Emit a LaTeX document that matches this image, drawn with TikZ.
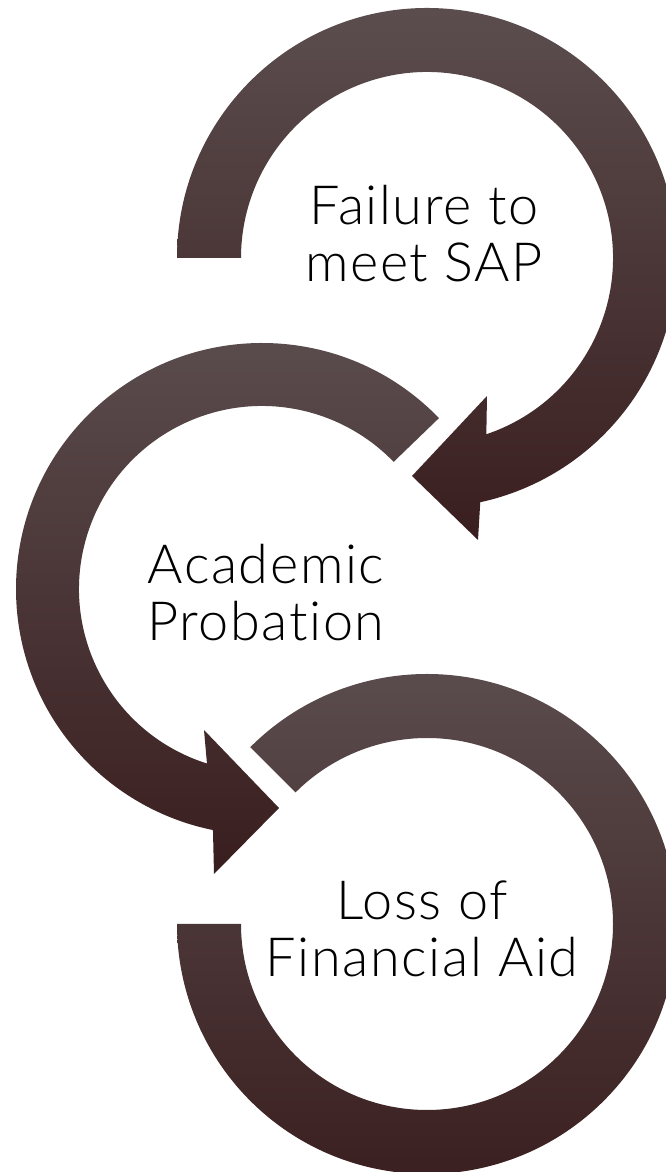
\documentclass[tikz,border=0pt]{standalone}
\usepackage{fontspec}
\setmainfont{Lato Light}[Ligatures={NoCommon,NoContextual}, LetterSpace=3]
\definecolor{ringtop}{HTML}{5B4D4E}
\definecolor{ringbot}{HTML}{3A1E1F}
\begin{document}
\begin{tikzpicture}[x=1pt, y=1pt,
  ring/.style={top color=ringtop, bottom color=ringbot},
  lbl/.style={align=center, inner sep=0pt, font=\fontsize{54}{57}\selectfont}]
  \useasboundingbox (0,0) rectangle (666,1172);
  \clip (0,0) rectangle (666,1172);
  \fill[white] (0,0) rectangle (666,1172);
  \coordinate (c1) at (427,914);
  \coordinate (c2) at (262,583);
  \coordinate (c3) at (427,248);
  \path[ring, shift={(c1)}] (180:250) arc[start angle=180, end angle=-77.7, radius=250]
    -- (51,-282) -- (-15,-218) -- (60,-138) -- (-71.4:186)
    arc[start angle=-71.4, end angle=180, radius=186] -- cycle;
  \path[ring, shift={(c2)}] (44:246) arc[start angle=44, end angle=258.5, radius=246]
    -- (-48,-285) -- (17,-219) -- (-58,-141) -- (252.5:183)
    arc[start angle=252.5, end angle=44, radius=183] -- cycle;
  \path[ring, shift={(c3)}] (135:250) arc[start angle=135, end angle=-180, radius=250]
    -- (180:186) arc[start angle=-180, end angle=135, radius=186] -- cycle;
  \node[lbl] (fail) at (424,938) {Failure to\\meet SAP};
  \node[lbl] (prob) at (266,579) {Academic\\Probation};
  \node[lbl] (loss) at (422,243) {Loss of\\Financial Aid};
\end{tikzpicture}
\end{document}
